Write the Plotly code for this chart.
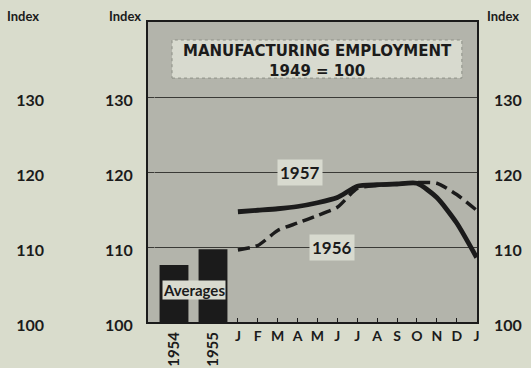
import plotly.graph_objects as go

# Monthly index readings (1949 = 100), one per month mark from January to the following January
month_labels = ["J", "F", "M", "A", "M", "J", "J", "A", "S", "O", "N", "D", "J"]
month_pos = list(range(13))
emp_1957 = [114.7, 114.9, 115.1, 115.4, 115.9, 116.6, 118.1, 118.3, 118.4, 118.5, 116.6, 113.2, 108.6]
emp_1956 = [109.6, 110.2, 112.2, 113.2, 114.2, 115.3, 117.8, 118.2, 118.4, 118.6, 118.5, 117.0, 114.9]

# Annual averages shown as bars
avg_years = ["1954", "1955"]
avg_values = [107.6, 109.7]

index_ticks = [100, 110, 120, 130]
index_range = [100, 140]

W, H = 531, 368
INK = "#1b1b1b"
PAGE = "#d9dccc"
PANEL = "#b3b4ab"
LABEL_BG = "#d8dacf"
FONT = "Lato"
TITLE_FONT = "DejaVu Sans"

fig = go.Figure()

fig.add_trace(go.Bar(
    x=avg_years, y=avg_values, xaxis="x2", yaxis="y",
    marker=dict(color=INK, line=dict(width=0)), width=0.74,
    showlegend=False, hoverinfo="skip",
))

fig.add_trace(go.Scatter(
    x=month_pos, y=emp_1956, mode="lines",
    line=dict(color=INK, width=3.5, dash="12px,6px", shape="spline", smoothing=0.6),
    showlegend=False, hoverinfo="skip",
))
fig.add_trace(go.Scatter(
    x=month_pos, y=emp_1957, mode="lines",
    line=dict(color=INK, width=4.8, shape="spline", smoothing=0.6),
    showlegend=False, hoverinfo="skip",
))

# Empty traces so the extra scale columns get drawn
for ya in ["y2", "y3"]:
    fig.add_trace(go.Scatter(x=[], y=[], yaxis=ya, mode="lines",
                             showlegend=False, hoverinfo="skip"))

tick_font = dict(family=FONT, size=16, color=INK, weight="bold")

def label_axis(**kw):
    base = dict(
        range=index_range, tickvals=index_ticks, showgrid=False, zeroline=False,
        showline=False, ticks="", tickfont=tick_font, ticklabelshift=3,
        overlaying="y", anchor="free", fixedrange=True, automargin=False,
    )
    base.update(kw)
    return base

fig.update_layout(
    width=W, height=H,
    margin=dict(l=0, r=0, t=22, b=46, autoexpand=False),
    paper_bgcolor=PAGE, plot_bgcolor=PANEL,
    xaxis=dict(
        domain=[148 / W, 477 / W], range=[-4.52, 12.02],
        tickvals=month_pos, ticktext=month_labels,
        tickfont=dict(family=FONT, size=14, color=INK, weight="bold"),
        ticks="inside", ticklen=4, tickwidth=1, tickcolor=INK,
        showline=True, linecolor=INK, linewidth=2, mirror=True,
        showgrid=False, zeroline=False, anchor="y", automargin=False,
    ),
    xaxis2=dict(
        domain=[154.5 / W, 232.5 / W], type="category", range=[-0.5, 1.5],
        anchor="y", showline=False, showgrid=False, zeroline=False, ticks="",
        tickangle=-90, ticklabelstandoff=6, automargin=False,
        tickfont=dict(family=FONT, size=15, color=INK, weight="bold"),
    ),
    yaxis=dict(
        range=index_range, tickvals=index_ticks, anchor="x", side="left",
        showgrid=True, gridcolor="#3a3a36", gridwidth=1,
        showline=True, linecolor=INK, linewidth=2, mirror=True,
        zeroline=False, ticks="", tickfont=tick_font,
        ticklabelstandoff=10, ticklabelshift=3, automargin=False,
    ),
    yaxis2=label_axis(side="left", position=44 / W),
    yaxis3=label_axis(side="right", position=493 / W),
    showlegend=False,
)

# Chart title panel
fig.add_shape(
    type="rect", xref="x domain", yref="y domain",
    x0=0.073, x1=0.954, y0=0.813, y1=0.94,
    fillcolor=LABEL_BG, line=dict(color="#8e9087", width=1, dash="dot"), layer="above",
)
fig.add_annotation(
    xref="x domain", yref="y domain", x=0.514, y=0.87,
    xanchor="center", yanchor="middle",
    text="MANUFACTURING EMPLOYMENT<br>1949 = 100", showarrow=False,
    font=dict(family=TITLE_FONT, size=15, color=INK, weight="bold"),
)

# Series labels sitting on the grid lines
for txt, xv, yv in [("1957", 3.1, 120), ("1956", 4.72, 110)]:
    fig.add_annotation(
        x=xv, y=yv, xref="x", yref="y", text=txt, showarrow=False,
        font=dict(family=FONT, size=17, color=INK, weight="bold"),
        bgcolor=LABEL_BG, borderpad=2,
    )

fig.add_annotation(
    x=0.5, y=104.3, xref="x2", yref="y", text="Averages", showarrow=False,
    font=dict(family=FONT, size=15, color=INK, weight="bold"),
    bgcolor=LABEL_BG, borderpad=0,
)

# "Index" headers above each column of scale labels
for xc in [23, 125, 503]:
    fig.add_annotation(
        xref="paper", yref="paper", x=xc / W, y=1 + 6 / 300,
        xanchor="center", yanchor="middle", text="Index",
        showarrow=False, font=dict(family=FONT, size=13, color=INK, weight="bold"),
    )

fig.write_html("out.html")
